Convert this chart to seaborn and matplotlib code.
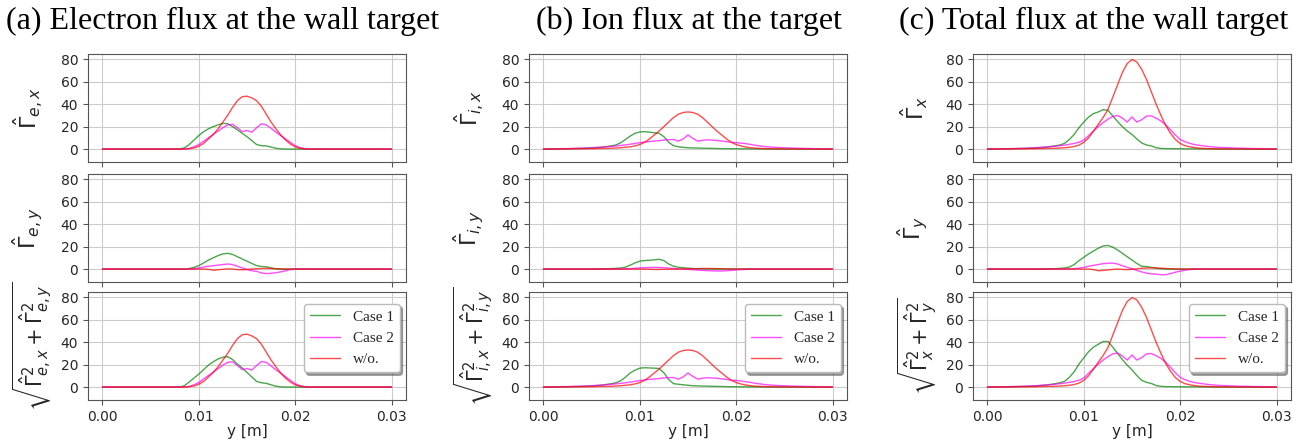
import numpy as np
import matplotlib
matplotlib.use("Agg")
import matplotlib.pyplot as plt
import seaborn as sns

# sample positions along the target [m]
y_pos = [0.000, 0.002, 0.004, 0.005, 0.006, 0.007, 0.0075, 0.008, 0.0085, 0.009,
         0.0095, 0.010, 0.0105, 0.011, 0.0115, 0.012, 0.0125, 0.013, 0.0135, 0.014,
         0.0145, 0.015, 0.0155, 0.016, 0.0165, 0.017, 0.0175, 0.018, 0.0185, 0.019,
         0.0195, 0.020, 0.0205, 0.021, 0.0215, 0.022, 0.023, 0.024, 0.026, 0.028, 0.030]

case_labels = ["Case 1", "Case 2", "w/o."]

# (a) electrons
ex_case1 = [0, 0, 0, 0, 0, 0, 0, 0, 1, 4, 8, 12, 15.5, 18, 20, 21.5, 22.8, 22.5, 20, 17,
            14, 11, 7.5, 4, 3, 2.8, 1.8, 0.7, 0.2, 0, 0, 0, 0, 0, 0, 0, 0, 0, 0, 0, 0]
ex_case2 = [0, 0, 0, 0, 0, 0, 0, 0, 0, 0.5, 2, 4, 7, 10, 13, 16, 19, 21.5, 22, 19,
            15.5, 16.5, 15, 19, 22.5, 21.5, 18.5, 15, 12, 9, 6, 3, 1.2, 0.3, 0, 0, 0, 0, 0, 0, 0]
ex_wo = [0, 0, 0, 0, 0, 0, 0, 0, 0, 0.3, 1, 2.5, 5, 9, 13, 18, 24, 30, 37, 43,
         46.5, 47, 45.5, 43, 38, 31, 24, 18, 12.5, 8, 4.5, 2, 0.8, 0.2, 0, 0, 0, 0, 0, 0, 0]

ey_case1 = [0, 0, 0, 0, 0, 0, 0, 0, 0, 0.5, 1.5, 3, 5.5, 8, 10, 12, 13.5, 14, 13, 11,
            9, 7, 5, 3, 2.3, 2, 1, 0.3, 0, 0, 0, 0, 0, 0, 0, 0, 0, 0, 0, 0, 0]
ey_case2 = [0, 0, 0, 0, 0, 0, 0, 0, 0, 0, 0.3, 1, 1.8, 2.5, 3, 3.5, 4, 4.5, 4, 2.5,
            1, -0.5, -1.5, -2, -3.5, -4, -3.8, -3.2, -2.5, -1.5, -0.5, 0, 0, 0, 0, 0, 0, 0, 0, 0, 0]
ey_wo = [0, 0, 0, 0, 0, 0, 0, 0, 0, 0, 0, 0, 0, -0.3, -1, -0.6, -0.2, 0.2, 0, -0.5,
         -0.6, -0.3, 0, 0.3, 0.5, 0.6, 0.5, 0.3, 0.1, 0, 0, 0, 0, 0, 0, 0, 0, 0, 0, 0, 0]

em_case1 = [0, 0, 0, 0, 0, 0, 0, 0, 1.2, 4.5, 8, 11.5, 15.5, 19.5, 22.5, 25, 26.5, 27, 24.5, 20.5,
            17, 13, 9, 5, 3.8, 3.3, 2, 0.8, 0.2, 0, 0, 0, 0, 0, 0, 0, 0, 0, 0, 0, 0]
em_case2 = [0, 0, 0, 0, 0, 0, 0, 0, 0, 0.5, 2, 4.1, 7.2, 10.3, 13.3, 16.4, 19.4, 22, 22.4, 19.2,
            15.5, 16.5, 15.1, 19.2, 22.8, 21.9, 18.8, 15.3, 12.3, 9.1, 6, 3, 1.2, 0.3, 0, 0, 0, 0, 0, 0, 0]
em_wo = [0, 0, 0, 0, 0, 0, 0, 0, 0, 0.3, 1, 2.5, 5, 9, 13, 18, 24, 30, 37, 43,
         46.5, 47, 45.5, 43, 38, 31, 24, 18, 12.5, 8, 4.5, 2, 0.8, 0.2, 0, 0, 0, 0, 0, 0, 0]

# (b) ions
ix_case1 = [0, 0.2, 0.6, 1, 1.6, 2.8, 3.6, 5.5, 8.5, 11.5, 14, 15.2, 15.5, 15, 14.5, 14, 11, 6, 3, 2,
            1.5, 1.2, 1, 0.9, 0.8, 0.7, 0.6, 0.5, 0.4, 0.4, 0.3, 0.3, 0.2, 0.2, 0.2, 0.1, 0.1, 0, 0, 0, 0]
ix_case2 = [0, 0.3, 0.8, 1.2, 1.7, 2.3, 2.7, 3.2, 3.7, 4.3, 5, 5.7, 6.2, 6.7, 7.1, 7.5, 8, 8.3, 8.5, 7,
            9, 12.5, 9.5, 7, 7.8, 8.2, 8, 7.6, 7.1, 6.6, 6.1, 5.7, 5.3, 4.8, 4.1, 3.3, 2.2, 1.5, 0.8, 0.4, 0.2]
ix_wo = [0, 0.1, 0.2, 0.3, 0.5, 0.7, 0.9, 1.2, 1.6, 2, 2.8, 4, 6, 9, 12.5, 16, 20, 24, 28, 31,
         32.5, 33, 32.5, 31, 28, 24, 20, 16, 12.5, 9, 6, 4, 2.7, 1.8, 1.2, 0.8, 0.4, 0.2, 0.1, 0, 0]

iy_case1 = [0, 0, 0, 0, 0.2, 0.4, 0.6, 1, 1.6, 3.5, 5.5, 7, 7.6, 7.8, 8.2, 8.7, 7.5, 4.5, 2.5, 1.6,
            1.2, 0.8, 0.5, 0.3, 0.2, 0.1, 0, 0, 0, 0, 0, 0, 0, 0, 0, 0, 0, 0, 0, 0, 0]
iy_case2 = [0, 0, 0, 0, 0, 0, 0, 0, 0.2, 0.4, 0.7, 1, 1.2, 1.4, 1.5, 1.4, 1.2, 0.9, 0.5, 0.2,
            0, -0.3, -0.6, -0.9, -1.2, -1.4, -1.6, -1.7, -1.7, -1.5, -1.2, -0.8, -0.5, -0.2, 0, 0, 0, 0, 0, 0, 0]
iy_wo = [0, 0, 0, 0, 0, 0, 0, 0, 0, 0, 0, 0, 0, -0.2, -0.3, -0.3, -0.2, -0.1, 0, 0,
         0.1, 0.2, 0.3, 0.4, 0.5, 0.5, 0.5, 0.4, 0.3, 0.2, 0.1, 0, 0, 0, 0, 0, 0, 0, 0, 0, 0]

im_case1 = [0, 0.2, 0.6, 1, 1.7, 2.9, 3.8, 5.5, 8.7, 12.5, 15, 16.8, 17.2, 17, 16.8, 16.5, 12.7, 6.7, 3, 2.5,
            2, 1.6, 1.2, 1, 0.9, 0.8, 0.7, 0.6, 0.5, 0.4, 0.3, 0.3, 0.2, 0.2, 0.2, 0.1, 0.1, 0, 0, 0, 0]
im_case2 = [0, 0.3, 0.8, 1.2, 1.7, 2.4, 2.8, 3.3, 3.8, 4.4, 5.1, 5.8, 6.3, 6.8, 7.2, 7.6, 8.1, 8.4, 8.5, 7,
            9, 12.5, 9.5, 7, 7.9, 8.3, 8.1, 7.8, 7.3, 6.8, 6.2, 5.8, 5.3, 4.8, 4.1, 3.3, 2.2, 1.5, 0.8, 0.4, 0.2]
im_wo = [0, 0.1, 0.2, 0.3, 0.5, 0.7, 0.9, 1.2, 1.6, 2, 2.8, 4, 6, 9, 12.5, 16, 20, 24, 28, 31,
         32.5, 33, 32.5, 31, 28, 24, 20, 16, 12.5, 9, 6, 4, 2.7, 1.8, 1.2, 0.8, 0.4, 0.2, 0.1, 0, 0]

# (c) total
tx_case1 = [0, 0.2, 0.6, 1, 1.6, 2.8, 3.6, 5, 8.5, 13, 19, 24, 28.5, 31.5, 33, 35, 34.5, 29.5, 24.5, 20,
            16, 13, 9, 5.5, 3.6, 2.8, 1.2, 0.6, 0.4, 0.4, 0.3, 0.3, 0.2, 0.2, 0.2, 0.1, 0.1, 0, 0, 0, 0]
tx_case2 = [0, 0.3, 0.8, 1.2, 1.8, 2.5, 3, 3.5, 4.2, 5, 6, 8, 12, 16, 20, 23.5, 26.5, 29, 29.8, 27.5,
            24, 28.5, 24, 26, 29.3, 29.5, 27.5, 25, 21.5, 17, 12.5, 8.5, 6.5, 5, 4, 3.3, 2.2, 1.5, 0.8, 0.4, 0.2]
tx_wo = [0, 0.1, 0.2, 0.3, 0.5, 0.7, 0.9, 1.2, 1.6, 2.3, 3.5, 6, 10, 16, 22, 28, 35, 46, 57, 68,
         76, 79.5, 77.5, 71, 62, 51, 40, 30, 21, 14, 8.5, 5, 3, 2, 1.3, 0.8, 0.4, 0.2, 0.1, 0, 0]

ty_case1 = [0, 0, 0, 0, 0.2, 0.4, 0.6, 1, 1.8, 4, 7.5, 10.5, 13.5, 16, 18.5, 20.5, 21, 19.5, 17, 14,
            11, 8, 5, 2.5, 2.2, 1.5, 0.7, 0.3, 0, 0, 0, 0, 0, 0, 0, 0, 0, 0, 0, 0, 0]
ty_case2 = [0, 0, 0, 0, 0, 0, 0, 0, 0.2, 0.4, 0.8, 1.5, 2.5, 3.3, 4, 4.8, 5.2, 5.3, 4.5, 3,
            1.5, 0.3, -1.2, -2.5, -3.6, -4.3, -4.5, -5, -5, -4, -2.8, -1.8, -1, -0.4, 0, 0, 0, 0, 0, 0, 0]
ty_wo = [0, 0, 0, 0, 0, 0, 0, 0, 0, 0, 0, 0, 0, -0.5, -1.5, -1.2, -0.8, -0.3, 0, -0.3,
         -0.5, -0.2, 0.3, 0.7, 0.9, 1, 1, 0.8, 0.5, 0.3, 0.1, 0, 0, 0, 0, 0, 0, 0, 0, 0, 0]

tm_case1 = [0, 0.2, 0.6, 1, 1.7, 2.9, 3.8, 5.1, 8.7, 13.6, 20.5, 26, 31.5, 35.5, 38, 40.5, 40.5, 35.5, 30, 24.5,
            19.5, 15.3, 10.3, 6, 4.2, 3.2, 1.4, 0.7, 0.4, 0.4, 0.3, 0.3, 0.2, 0.2, 0.2, 0.1, 0.1, 0, 0, 0, 0]
tm_case2 = [0, 0.3, 0.8, 1.2, 1.8, 2.5, 3, 3.5, 4.2, 5, 6, 8.1, 12.3, 16.3, 20.4, 24, 27, 29.5, 30.2, 27.7,
            24, 28.5, 24, 26.1, 29.5, 29.8, 27.9, 25.5, 22, 17.5, 12.8, 8.7, 6.6, 5, 4, 3.3, 2.2, 1.5, 0.8, 0.4, 0.2]
tm_wo = [0, 0.1, 0.2, 0.3, 0.5, 0.7, 0.9, 1.2, 1.6, 2.3, 3.5, 6, 10, 16, 22, 28, 35, 46, 57, 68,
         76, 79.5, 77.5, 71, 62, 51, 40, 30, 21, 14, 8.5, 5, 3, 2, 1.3, 0.8, 0.4, 0.2, 0.1, 0, 0]

titles = ["(a) Electron flux at the wall target",
          "(b) Ion flux at the target",
          "(c) Total flux at the wall target"]
ylabels = [
    [r"$\hat{\Gamma}_{e,x}$", r"$\hat{\Gamma}_{e,y}$", r"$\sqrt{\hat{\Gamma}_{e,x}^2+\hat{\Gamma}_{e,y}^2}$"],
    [r"$\hat{\Gamma}_{i,x}$", r"$\hat{\Gamma}_{i,y}$", r"$\sqrt{\hat{\Gamma}_{i,x}^2+\hat{\Gamma}_{i,y}^2}$"],
    [r"$\hat{\Gamma}_{x}$", r"$\hat{\Gamma}_{y}$", r"$\sqrt{\hat{\Gamma}_{x}^2+\hat{\Gamma}_{y}^2}$"],
]
panels = [
    [[ex_case1, ex_case2, ex_wo], [ey_case1, ey_case2, ey_wo], [em_case1, em_case2, em_wo]],
    [[ix_case1, ix_case2, ix_wo], [iy_case1, iy_case2, iy_wo], [im_case1, im_case2, im_wo]],
    [[tx_case1, tx_case2, tx_wo], [ty_case1, ty_case2, ty_wo], [tm_case1, tm_case2, tm_wo]],
]
colors = ["g", "magenta", "r"]

sns.set_style("whitegrid", {"axes.edgecolor": "#555555", "grid.color": "#cccccc",
                            "xtick.bottom": True, "ytick.left": True})
plt.rcParams["xtick.labelsize"] = 10
plt.rcParams["ytick.labelsize"] = 10
plt.rcParams["xtick.color"] = "#555555"
plt.rcParams["ytick.color"] = "#555555"
plt.rcParams["xtick.labelcolor"] = "#262626"
plt.rcParams["ytick.labelcolor"] = "#262626"

W, H = 1306, 443
fig = plt.figure(figsize=(W / 100, H / 100), dpi=100)

col_left = [88, 529, 973]
ax_w = 318
row_top = [54, 174, 292]
ax_h = 108
title_x = [223, 689, 1094]

for c in range(3):
    fig.text(title_x[c] / W, 1 - 21 / H, titles[c], ha="center", va="center",
             fontsize=23, family="Liberation Serif", color="black")
    for r in range(3):
        ax = fig.add_axes([col_left[c] / W, 1 - (row_top[r] + ax_h) / H, ax_w / W, ax_h / H])
        for k in range(3):
            lab = case_labels[k] if r == 2 else None
            sns.lineplot(x=y_pos, y=panels[c][r][k], ax=ax, color=colors[k], lw=1,
                         alpha=0.7, label=lab)
        ax.set_xlim(-0.0015, 0.0315)
        ax.set_ylim(-11.5, 84.5)
        ax.set_xticks([0.0, 0.01, 0.02, 0.03])
        ax.set_yticks([0, 20, 40, 60, 80])
        ax.tick_params(length=3.5, width=0.8)
        if r < 2:
            ax.tick_params(labelbottom=False)
        else:
            ax.set_xticklabels(["0.00", "0.01", "0.02", "0.03"])
            ax.set_xlabel("y [m]", fontsize=11, color="#262626", labelpad=0)
            leg = ax.legend(loc="upper right", bbox_to_anchor=(0.98, 0.89), borderaxespad=0,
                            shadow=True, fancybox=True, framealpha=1,
                            prop={"family": "Liberation Serif", "size": 11})
            leg.get_frame().set_edgecolor("#bbbbbb")
        ax.set_ylabel(ylabels[c][r], fontsize=16 if r < 2 else 15, color="#262626")
        ax.yaxis.set_label_coords(-0.135 if r < 2 else -0.104, 0.5)

fig.savefig("out.png", dpi=100)
